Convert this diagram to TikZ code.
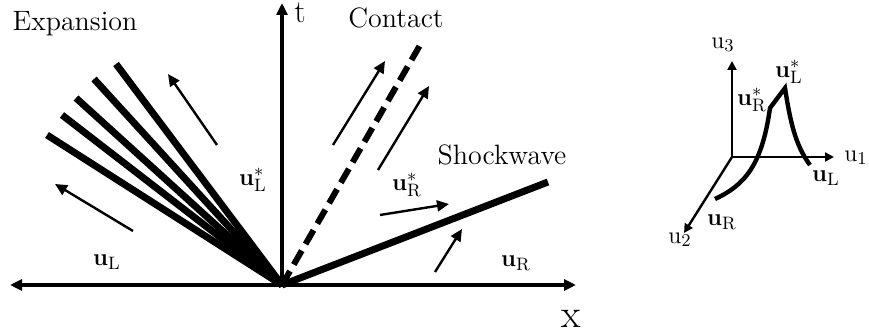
\documentclass[tikz,border=0pt]{standalone}
\usetikzlibrary{arrows.meta}
\begin{document}
\begin{tikzpicture}[
  x=0.5pt, y=-0.5pt,
  axis/.style={line width=1.6pt, -{Triangle[length=6pt,width=5.5pt]}},
  smallaxis/.style={line width=1.2pt, -{Triangle[length=4.5pt,width=4.5pt]}},
  arrow/.style={line width=1.2pt, -{Triangle[length=6pt,width=5.5pt]}},
  wave/.style={line width=3.5pt},
  contact/.style={line width=3pt, dash pattern=on 8pt off 3.8pt},
  word/.style={font=\fontsize{14}{16}\selectfont, inner sep=0pt, anchor=base},
  vec/.style={font=\fontsize{13}{15}\selectfont, inner sep=0pt}
]
\useasboundingbox (0,0) rectangle (869,336);

% x-t diagram
\coordinate (O) at (282,285);
\coordinate (xl) at (10,285);
\coordinate (xr) at (576,285);
\coordinate (tt) at (282,3);
\draw[axis] (O) -- (xl);
\draw[axis] (O) -- (xr);
\draw[axis] (O) -- (tt);
\node[word, font=\fontsize{16}{18}\selectfont] (tlab) at (300,23) {t};
\node[word, font=\fontsize{20}{22}\selectfont] (xlab) at (571,328) {x};

% expansion fan
\coordinate (fan1) at (47,135);
\coordinate (fan2) at (62,115);
\coordinate (fan3) at (76,98);
\coordinate (fan4) at (94,79);
\coordinate (fan5) at (116,64);
\foreach \i in {1,...,5}
  \draw[wave] (O) -- (fan\i);

% contact and shock
\coordinate (ct) at (423,40);
\coordinate (sh) at (548,182);
\draw[contact] (O) -- (ct);
\draw[wave] (O) -- (sh);

% flow arrows
\coordinate (s1) at (133,231); \coordinate (e1) at (55,184);
\coordinate (s2) at (217,145); \coordinate (e2) at (168,74);
\coordinate (s3) at (333,145); \coordinate (e3) at (385,61);
\coordinate (s4) at (378,170); \coordinate (e4) at (429,86);
\coordinate (s5) at (380,215); \coordinate (e5) at (449,204);
\coordinate (s6) at (435,272); \coordinate (e6) at (462,229);
\foreach \i in {1,...,6}
  \draw[arrow] (s\i) -- (e\i);

\node[word] (expansion) at (75,31) {Expansion};
\node[word] (contactlab) at (396,28) {Contact};
\node[word] (shocklab) at (502,165) {Shockwave};
\node[vec] (uL) at (107,262) {$\mathbf{u}_{\mathrm{L}}$};
\node[vec] (uLs) at (253,180) {$\mathbf{u}^{*}_{\mathrm{L}}$};
\node[vec] (uRs) at (407,185) {$\mathbf{u}^{*}_{\mathrm{R}}$};
\node[vec] (uR) at (516,263) {$\mathbf{u}_{\mathrm{R}}$};

% state space
\coordinate (P) at (732,157);
\coordinate (ax1) at (834,157);
\coordinate (ax2) at (684,233);
\coordinate (ax3) at (732,61);
\draw[smallaxis] (P) -- (ax1);
\draw[smallaxis] (P) -- (ax2);
\draw[smallaxis] (P) -- (ax3);
\node[vec] (u1) at (856,158) {$\mathrm{u}_1$};
\node[vec] (u2) at (680,240) {$\mathrm{u}_2$};
\node[vec] (u3) at (723,45) {$\mathrm{u}_3$};

\coordinate (qR) at (715,199);
\coordinate (qRs) at (770,108);
\coordinate (qLs) at (785,88);
\coordinate (qL) at (810,165);
\draw[line width=2.2pt, line join=miter]
  (qR) .. controls (745,185) and (762,165) .. (qRs)
  -- (qLs) .. controls (790,120) and (795,145) .. (qL);
\node[vec] (pLs) at (789,72) {$\mathbf{u}^{*}_{\mathrm{L}}$};
\node[vec] (pRs) at (752,100) {$\mathbf{u}^{*}_{\mathrm{R}}$};
\node[vec] (pL) at (826,178) {$\mathbf{u}_{\mathrm{L}}$};
\node[vec] (pR) at (722,222) {$\mathbf{u}_{\mathrm{R}}$};
\end{tikzpicture}
\end{document}
